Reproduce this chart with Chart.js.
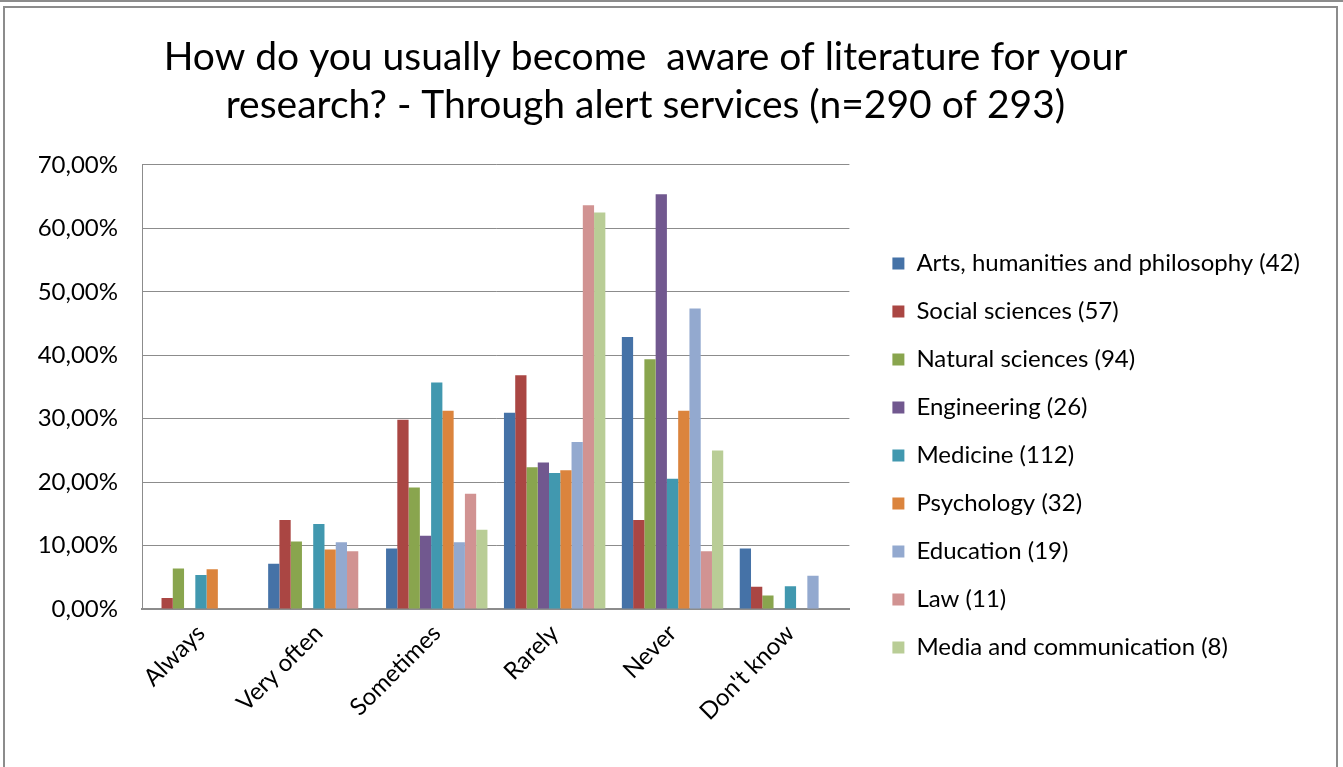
<!DOCTYPE html>
<html>
<head>
<meta charset="utf-8">
<script src="https://cdn.jsdelivr.net/npm/chart.js@4"></script>
<style>
  html, body { margin: 0; padding: 0; background: #fff; overflow: hidden; }
  .topline { position: absolute; left: 0; top: 0; width: 1343px; height: 2px; background: #8c8c8c; }
  .frame { position: absolute; left: 3px; top: 6px; width: 1331px; height: 800px; border: 2px solid #8c8c8c; }
  #wrap { position: absolute; left: 0; top: 0; width: 1343px; height: 767px; }
</style>
</head>
<body>
<div class="topline"></div>
<div class="frame"></div>
<div id="wrap"><canvas id="chart"></canvas></div>
<script>
// answer options (x axis)
const categories = ['Always', 'Very often', 'Sometimes', 'Rarely', 'Never', "Don't know"];

// disciplines (series)
const seriesNames = [
    'Arts, humanities and philosophy (42)',
    'Social sciences (57)',
    'Natural sciences (94)',
    'Engineering (26)',
    'Medicine (112)',
    'Psychology (32)',
    'Education (19)',
    'Law (11)',
    'Media and communication (8)'
];

// shares in percent, one array per discipline
const arts        = [0,     7.14,  9.52,  30.95, 42.86, 9.52];
const social      = [1.75,  14.04, 29.82, 36.84, 14.04, 3.51];
const natural     = [6.38,  10.64, 19.15, 22.34, 39.36, 2.13];
const engineering = [0,     0,     11.54, 23.08, 65.38, 0];
const medicine    = [5.36,  13.39, 35.71, 21.43, 20.54, 3.57];
const psychology  = [6.25,  9.38,  31.25, 21.88, 31.25, 0];
const education   = [0,     10.53, 10.53, 26.32, 47.37, 5.26];
const law         = [0,     9.09,  18.18, 63.64, 9.09,  0];
const media       = [0,     0,     12.5,  62.5,  25,    0];

const colors = ['#4572A7', '#AA4643', '#89A54E', '#71588F', '#4198AF', '#DB843D', '#93A9CF', '#D19392', '#B9CD96'];

const seriesValues = [arts, social, natural, engineering, medicine, psychology, education, law, media];

const FONT = 'Lato, "Open Sans", sans-serif';

// push the legend a bit to the right of the plot, like Excel does
const legendShift = {
    id: 'legendShift',
    afterLayout(chart) {
        chart.legend.left += 19;
        chart.legend.right += 19;
    }
};

function draw() {
    const ctx = document.getElementById('chart').getContext('2d');
    new Chart(ctx, {
        type: 'bar',
        data: {
            labels: categories,
            datasets: seriesValues.map((vals, i) => ({
                label: seriesNames[i],
                data: vals,
                backgroundColor: colors[i],
                borderWidth: 0,
                barPercentage: 1,
                categoryPercentage: 0.86
            }))
        },
        options: {
            responsive: true,
            maintainAspectRatio: false,
            animation: false,
            layout: { padding: { top: 33, left: 0, right: 52, bottom: 0 } },
            plugins: {
                title: {
                    display: true,
                    text: ['How do you usually become  aware of literature for your', 'research? - Through alert services (n=290 of 293)'],
                    color: '#000',
                    font: { family: FONT, size: 39, weight: 'normal', lineHeight: 1.23 },
                    padding: { top: 0, bottom: 36 }
                },
                legend: {
                    position: 'right',
                    align: 'center',
                    maxWidth: 600,
                    title: { display: true, text: '', font: { size: 1 }, padding: { top: 110, bottom: 0 } },
                    labels: {
                        color: '#000',
                        font: { family: FONT, size: 24 },
                        boxWidth: 12,
                        boxHeight: 12,
                        padding: 24
                    }
                },
                tooltip: { enabled: false }
            },
            scales: {
                x: {
                    grid: { display: false, drawTicks: false },
                    border: { color: '#8c8c8c', width: 2 },
                    ticks: {
                        color: '#000',
                        font: { family: FONT, size: 24 },
                        maxRotation: 45,
                        minRotation: 45,
                        padding: 10
                    },
                    afterFit: s => { s.height = 767 - 609; }
                },
                y: {
                    min: 0,
                    max: 70,
                    grid: { color: '#8c8c8c', lineWidth: 1, drawTicks: false },
                    border: { color: '#8c8c8c', width: 1 },
                    ticks: {
                        stepSize: 10,
                        color: '#000',
                        font: { family: FONT, size: 24 },
                        padding: 24,
                        callback: v => v.toFixed(2).replace('.', ',') + '%'
                    },
                    afterFit: s => { s.width = 142; }
                }
            }
        },
        plugins: [legendShift]
    });
}

Promise.all([document.fonts.load('24px Lato'), document.fonts.load('39px Lato')])
    .then(draw, draw);
</script>
</body>
</html>
